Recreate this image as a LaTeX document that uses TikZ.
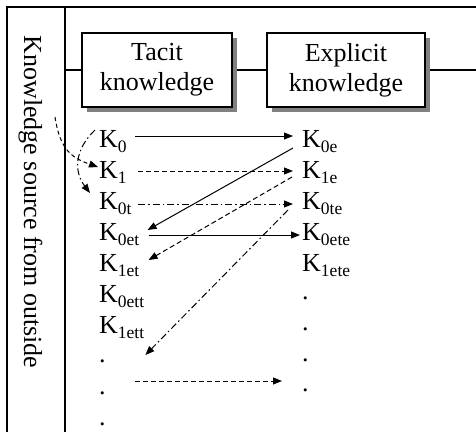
\documentclass[tikz,border=0pt]{standalone}
\usepackage{fontspec}
\setmainfont{Liberation Serif}
\usetikzlibrary{arrows.meta,shadows,backgrounds}
\newcommand\Kx[1]{K\raisebox{-5pt}{\fontsize{17.5}{17.5}\selectfont #1}}
\begin{document}
\begin{tikzpicture}[x=1pt,y=-1pt,
  frame/.style={line width=1.4pt},
  kbox/.style={draw,line width=1.6pt,fill=white,minimum height=74pt,inner sep=0pt,align=center,
    font=\fontsize{26}{30}\selectfont,
    drop shadow={shadow xshift=5pt,shadow yshift=-5pt,fill=black!50,opacity=1}},
  klab/.style={anchor=base west,inner sep=0pt,font=\fontsize{26}{30}\selectfont},
  arr/.style={line width=1pt,-{Triangle[length=9pt,width=7pt]}},
  dsh/.style={arr,dash pattern=on 5pt off 3pt},
  dshdot/.style={arr,dash pattern=on 7pt off 3pt on 1.5pt off 3pt},
]
\useasboundingbox (0,0) rectangle (476,432);

% frame
\draw[frame] (7,432) -- (7,7) -- (476,7);
\draw[frame] (65,7) -- (65,432);
\coordinate (jl) at (65,70);
\coordinate (jr) at (476,70);

\node[rotate=-90,anchor=base,inner sep=0pt,font=\fontsize{26}{30}\selectfont] (src) at (24,202) {Knowledge source from outside};

% boxes
\node[kbox,minimum width=150pt] (tacit) at (157,70) {Tacit\\knowledge};
\node[kbox,minimum width=158pt] (explicit) at (346,70) {Explicit\\knowledge};

\begin{pgfonlayer}{background}
\draw[frame] (jl) -- (tacit.west);
\draw[frame] (tacit.east) -- (explicit.west);
\draw[frame] (explicit.east) -- (jr);
\end{pgfonlayer}

% left column
\node[klab] (k0) at (99,147) {\Kx{0}};
\node[klab] (k1) at (99,178) {\Kx{1}};
\node[klab] (k0t) at (99,209) {\Kx{0t}};
\node[klab] (k0et) at (99,240) {\Kx{0et}};
\node[klab] (k1et) at (99,271) {\Kx{1et}};
\node[klab] (k0ett) at (99,302) {\Kx{0ett}};
\node[klab] (k1ett) at (99,333) {\Kx{1ett}};
\node[klab] (ld1) at (99,362) {.};
\node[klab] (ld2) at (99,394) {.};
\node[klab] (ld3) at (99,425) {.};

% right column
\node[klab] (k0e) at (302,147) {\Kx{0e}};
\node[klab] (k1e) at (302,178) {\Kx{1e}};
\node[klab] (k0te) at (302,209) {\Kx{0te}};
\node[klab] (k0ete) at (302,240) {\Kx{0ete}};
\node[klab] (k1ete) at (302,271) {\Kx{1ete}};
\node[klab] (rd1) at (302,299) {.};
\node[klab] (rd2) at (302,330) {.};
\node[klab] (rd3) at (302,361) {.};
\node[klab] (rd4) at (302,391) {.};

% horizontal arrows
\draw[arr] ([xshift=8.5pt,yshift=11pt]k0.base east) -- ([xshift=-9pt,yshift=11pt]k0e.base west);
\draw[dsh] ([xshift=11.5pt,yshift=7pt]k1.base east) -- ([xshift=-9pt,yshift=7pt]k1e.base west);
\draw[dshdot] ([xshift=6.6pt,yshift=5pt]k0t.base east) -- ([xshift=-9pt,yshift=5pt]k0te.base west);
\draw[arr] ([xshift=9pt,yshift=5pt]k0et.base east) -- ([xshift=-2pt,yshift=5pt]k0ete.base west);

% diagonal arrows
\draw[arr] ([xshift=-9pt,yshift=-1pt]k0e.base west) -- ([xshift=8pt,yshift=10pt]k0et.base east);
\draw[dsh] ([xshift=-10pt,yshift=1pt]k1e.base west) -- ([xshift=9pt,yshift=11pt]k1et.base east);
\draw[dshdot] ([xshift=-14pt,yshift=-1pt]k0te.base west) -- ([xshift=39.5pt,yshift=7pt]ld1.base east);
\draw[dsh] ([xshift=29.5pt,yshift=13pt]ld2.base east) -- ([xshift=-20pt,yshift=10pt]rd4.base west);

% curved arrows on the left
\coordinate (srcpt) at (55,117);
\draw[arr,dash pattern=on 4pt off 3pt] (srcpt) .. controls (60,150) and (72,158) .. ([xshift=-1pt,yshift=11pt]k1.base west);
\draw[dshdot] ([xshift=-4pt,yshift=17pt]k0.base west) .. controls (74,150) and (74,172) .. ([xshift=-9pt,yshift=16pt]k0t.base west);
\end{tikzpicture}
\end{document}
